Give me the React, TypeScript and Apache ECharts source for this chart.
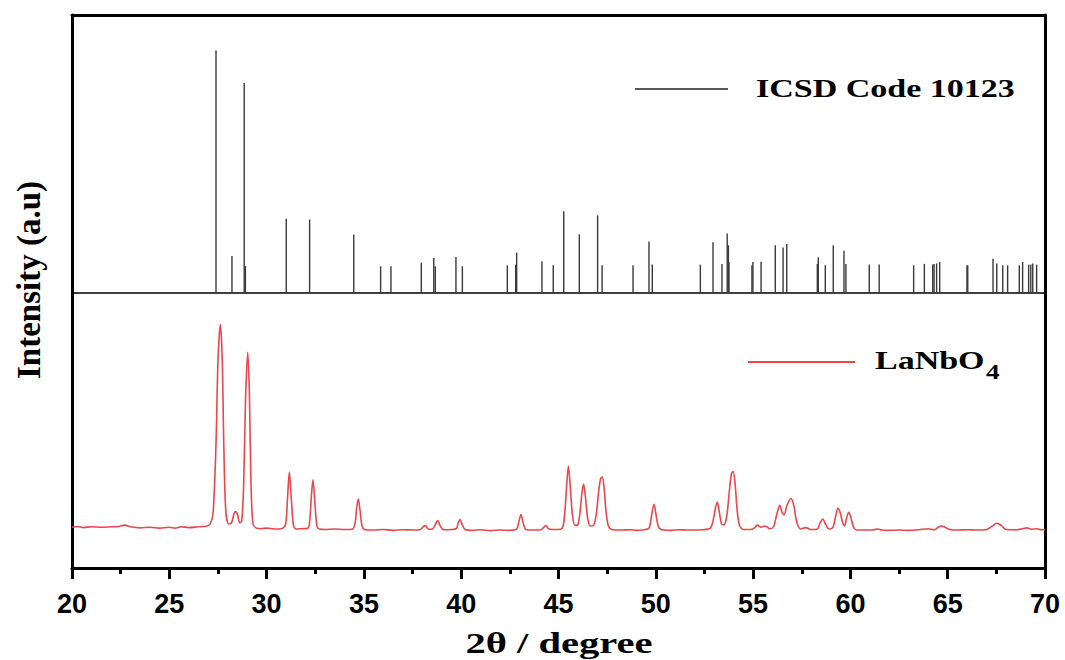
import React, { useEffect, useRef } from "react";
import * as echarts from "echarts";

// Reference stick pattern (ICSD Code 10123): [2θ, relative intensity]
const stickPositions = [
  27.40, 28.22, 28.85, 28.91, 31.01, 32.21, 34.48, 35.86, 36.39, 37.95, 38.59, 38.67, 39.73, 40.06,
  42.37, 42.80, 42.85, 44.15, 44.73, 45.27, 46.07, 47.01, 47.24, 48.83, 49.65, 49.82,
  52.29, 52.94, 53.40, 53.67, 53.73, 53.76, 54.94, 54.99, 55.41, 56.14, 56.54, 56.73,
  58.30, 58.35, 58.71, 59.12, 59.67, 59.77, 60.97, 61.48, 63.25, 63.80, 64.23, 64.30, 64.43, 64.59,
  65.99, 66.03, 67.33, 67.52, 67.83, 68.08, 68.68, 68.85, 69.16, 69.27, 69.37, 69.57,
];
const stickIntensities = [
  100, 15.3, 86.6, 11.1, 30.6, 30.3, 24.1, 11.0, 11.0, 12.5, 14.4, 11.0, 14.8, 11.0,
  11.4, 11.7, 16.6, 13.1, 11.4, 33.7, 24.2, 32.0, 11.4, 11.4, 21.2, 11.7,
  11.7, 20.9, 12.0, 24.5, 19.7, 12.8, 11.4, 12.8, 12.9, 19.7, 18.8, 20.2,
  12.0, 14.7, 11.4, 19.7, 17.4, 12.0, 11.7, 11.7, 11.4, 12.0, 11.7, 12.0, 12.2, 12.8,
  11.4, 11.4, 14.1, 12.2, 11.4, 11.4, 11.4, 12.8, 11.7, 11.7, 12.2, 11.7,
];

// Measured LaNbO4 pattern: 2θ values and intensities (a.u.)
const xrdTheta = [
  20.0, 20.3, 20.6, 21.0, 21.5, 22.0, 22.4, 22.7, 23.0, 23.5, 24.0, 24.5, 25.0, 25.3, 25.6, 26.0, 26.5, 26.9,
  27.1, 27.25, 27.4, 27.5, 27.62, 27.72, 27.8, 27.9, 28.05, 28.2, 28.33, 28.41, 28.5, 28.62,
  28.72, 28.82, 28.92, 29.03, 29.12, 29.2, 29.3, 29.45, 29.7, 30.0, 30.4, 30.8,
  30.98, 31.08, 31.17, 31.27, 31.38, 31.5, 31.8, 32.1, 32.2, 32.3, 32.38, 32.47, 32.58, 32.7,
  33.0, 33.5, 34.0, 34.4, 34.55, 34.63, 34.71, 34.8, 34.9, 35.05, 35.5, 36.0, 36.5, 37.0, 37.5, 37.9,
  38.05, 38.16, 38.3, 38.5, 38.65, 38.79, 38.92, 39.1, 39.5, 39.75, 39.85, 39.94, 40.05, 40.2,
  40.6, 41.0, 41.5, 42.0, 42.5, 42.85, 42.95, 43.07, 43.18, 43.32, 43.7, 44.1, 44.25, 44.36, 44.5, 44.9,
  45.2, 45.32, 45.42, 45.51, 45.6, 45.72, 45.85, 45.98, 46.1, 46.2, 46.29, 46.38, 46.5, 46.62,
  46.8, 46.95, 47.05, 47.15, 47.24, 47.33, 47.45, 47.58, 47.8, 48.3, 48.7, 49.0, 49.4,
  49.65, 49.78, 49.91, 50.02, 50.15, 50.4, 50.8, 51.2, 51.6, 52.0, 52.4, 52.8,
  52.95, 53.07, 53.16, 53.25, 53.38, 53.5, 53.65, 53.78, 53.88, 53.97, 54.07, 54.18, 54.3, 54.5, 54.9,
  55.1, 55.22, 55.4, 55.63, 55.85, 56.05, 56.2, 56.37, 56.5, 56.59, 56.75, 56.95, 57.1, 57.25, 57.45,
  57.72, 57.95, 58.3, 58.45, 58.58, 58.72, 58.9, 59.1, 59.25, 59.36, 59.48, 59.6, 59.69, 59.8, 59.91,
  60.02, 60.15, 60.35, 60.8, 61.2, 61.4, 61.6, 62.0, 62.5, 63.0, 63.5, 64.0, 64.3, 64.55, 64.69, 64.85,
  65.1, 65.5, 66.0, 66.5, 67.0, 67.3, 67.52, 67.75, 68.0, 68.5, 68.8, 69.06, 69.3, 69.6, 69.8, 70.0,
];
const xrdIntensity = [
  14.8, 15.1, 14.7, 15.0, 14.8, 15.0, 15.1, 15.6, 15.0, 14.6, 14.8, 14.5, 14.8, 14.5, 15.0, 14.7, 15.0, 15.2,
  16.0, 20.0, 45.0, 75.0, 88.6, 76.0, 45.0, 21.0, 16.0, 16.5, 19.8, 20.5, 19.5, 16.5,
  17.0, 30.0, 62.0, 78.4, 62.0, 30.0, 16.0, 14.6, 14.3, 14.5, 14.2, 14.4,
  16.0, 26.0, 34.9, 25.0, 15.5, 14.2, 14.3, 14.4, 16.0, 26.0, 32.1, 25.0, 15.5, 14.2,
  14.0, 14.2, 14.0, 14.1, 16.5, 22.0, 25.1, 21.0, 15.5, 13.9, 13.8, 14.0, 13.7, 13.9, 13.8, 14.0,
  15.0, 15.4, 14.2, 14.1, 15.5, 17.3, 15.3, 13.9, 14.0, 14.3, 16.5, 17.6, 15.8, 14.0,
  13.7, 13.9, 13.6, 13.8, 13.7, 14.1, 16.5, 19.4, 16.5, 14.0, 13.8, 13.9, 14.9, 15.4, 14.2, 14.0,
  14.6, 20.0, 30.0, 37.1, 30.0, 19.0, 15.5, 15.6, 20.0, 27.0, 30.5, 26.0, 18.0, 15.3,
  15.5, 20.0, 27.0, 32.0, 33.2, 30.0, 20.0, 15.0, 13.9, 13.8, 13.9, 13.7, 13.9,
  14.5, 19.0, 23.2, 19.0, 14.8, 13.8, 13.7, 13.9, 13.8, 13.8, 13.9, 14.5,
  17.5, 22.0, 24.0, 21.0, 16.0, 15.7, 19.0, 28.0, 34.0, 35.2, 31.0, 21.0, 15.5, 14.0, 14.0,
  14.8, 15.6, 14.8, 15.3, 14.3, 15.0, 19.0, 22.8, 20.0, 19.3, 23.0, 25.3, 22.5, 16.5, 14.2,
  14.7, 14.0, 14.2, 16.5, 17.8, 16.0, 14.2, 14.8, 19.0, 21.8, 20.0, 16.5, 15.3, 18.0, 20.3,
  18.5, 15.0, 13.8, 13.8, 13.9, 14.2, 13.8, 13.7, 13.8, 13.7, 13.9, 14.3, 13.9, 15.0, 15.3, 14.8,
  14.0, 13.8, 13.9, 13.8, 14.0, 15.3, 16.3, 15.5, 14.0, 13.9, 14.2, 14.6, 14.1, 14.3, 13.9, 13.9,
];

const xTicks = { min: 20, max: 70, interval: 5 };
const stickLegend = "ICSD Code 10123";
const sampleLegendMain = "LaNbO";
const sampleLegendSub = "4";
const xTitle = "2θ / degree";
const yTitle = "Intensity (a.u)";

const SERIF = "'Liberation Serif', 'Times New Roman', serif";
const SANS = "'Liberation Sans', Arial, sans-serif";
const RED = "#e8474c";

export default function App() {
  const ref = useRef<HTMLDivElement>(null);

  useEffect(() => {
    if (!ref.current) return;
    const chart = echarts.init(ref.current, undefined, { renderer: "svg" });

    const sticks = stickPositions.map((x, i) => [x, stickIntensities[i]]);
    const curve = xrdTheta.map((x, i) => [x, xrdIntensity[i]]);

    const hiddenAxisBits = {
      axisTick: { show: false },
      axisLabel: { show: false },
      splitLine: { show: false },
    };

    const option: any = {
      animation: false,
      backgroundColor: "#fff",
      grid: [
        { left: 72, right: 20, top: 15, height: 278 },
        { left: 72, right: 20, top: 293, bottom: 92 },
      ],
      xAxis: [
        {
          gridIndex: 0, type: "value", min: xTicks.min, max: xTicks.max, position: "bottom",
          axisLine: { show: true, onZero: false, lineStyle: { color: "#000", width: 1.5 } },
          ...hiddenAxisBits,
        },
        {
          gridIndex: 0, type: "value", min: xTicks.min, max: xTicks.max, position: "top",
          axisLine: { show: true, onZero: false, lineStyle: { color: "#000", width: 3 } },
          ...hiddenAxisBits,
        },
        {
          gridIndex: 1, type: "value", min: xTicks.min, max: xTicks.max, interval: xTicks.interval,
          position: "bottom",
          axisLine: { show: true, onZero: false, lineStyle: { color: "#000", width: 3 } },
          axisTick: { show: true, inside: false, length: 11, lineStyle: { color: "#000", width: 3 } },
          minorTick: { show: true, splitNumber: 2, length: 6, lineStyle: { color: "#000", width: 3 } },
          axisLabel: {
            show: true, margin: 22, color: "#000", fontFamily: SANS, fontWeight: "bold", fontSize: 27,
          },
          splitLine: { show: false },
          minorSplitLine: { show: false },
        },
      ],
      yAxis: [
        {
          gridIndex: 0, type: "value", min: 0, max: 114.6, position: "left",
          axisLine: { show: true, onZero: false, lineStyle: { color: "#000", width: 3 } },
          ...hiddenAxisBits,
        },
        {
          gridIndex: 0, type: "value", min: 0, max: 114.6, position: "right",
          axisLine: { show: true, onZero: false, lineStyle: { color: "#000", width: 3 } },
          ...hiddenAxisBits,
        },
        {
          gridIndex: 1, type: "value", min: 0, max: 100, position: "left",
          axisLine: { show: true, onZero: false, lineStyle: { color: "#000", width: 3 } },
          ...hiddenAxisBits,
        },
        {
          gridIndex: 1, type: "value", min: 0, max: 100, position: "right",
          axisLine: { show: true, onZero: false, lineStyle: { color: "#000", width: 3 } },
          ...hiddenAxisBits,
        },
      ],
      series: [
        {
          name: stickLegend,
          type: "custom",
          xAxisIndex: 0,
          yAxisIndex: 0,
          encode: { x: 0, y: 1 },
          data: sticks,
          clip: true,
          renderItem: (params: any, api: any) => {
            const x = api.value(0);
            const y = api.value(1);
            const p0 = api.coord([x, 0]);
            const p1 = api.coord([x, y]);
            return {
              type: "line",
              shape: { x1: p0[0], y1: p0[1], x2: p1[0], y2: p1[1] },
              style: { stroke: "#3a3a3a", lineWidth: 1.4 },
            };
          },
        },
        {
          name: "LaNbO4",
          type: "line",
          xAxisIndex: 2,
          yAxisIndex: 2,
          data: curve,
          showSymbol: false,
          smooth: 0.3,
          lineStyle: { color: RED, width: 1.6 },
        },
      ],
      graphic: [
        {
          type: "line",
          shape: { x1: 635, y1: 89, x2: 728, y2: 89 },
          style: { stroke: "#222", lineWidth: 1.5 },
        },
        {
          type: "text",
          x: 756, y: 88, scaleX: 1.36,
          style: {
            text: stickLegend, fill: "#000", font: `bold 25px ${SERIF}`,
            textAlign: "left", textVerticalAlign: "middle",
          },
        },
        {
          type: "line",
          shape: { x1: 748, y1: 362, x2: 855, y2: 362 },
          style: { stroke: RED, lineWidth: 2 },
        },
        {
          type: "text",
          x: 875, y: 360, scaleX: 1.36,
          style: {
            text: sampleLegendMain, fill: "#000", font: `bold 25px ${SERIF}`,
            textAlign: "left", textVerticalAlign: "middle",
          },
        },
        {
          type: "text",
          x: 986, y: 372, scaleX: 1.36,
          style: {
            text: sampleLegendSub, fill: "#000", font: `bold 20px ${SERIF}`,
            textAlign: "left", textVerticalAlign: "middle",
          },
        },
        {
          type: "text",
          x: 559, y: 644, scaleX: 1.4,
          style: {
            text: xTitle, fill: "#000", font: `bold 29px ${SERIF}`,
            textAlign: "center", textVerticalAlign: "middle",
          },
        },
        {
          type: "text",
          x: 29, y: 280, rotation: Math.PI / 2,
          style: {
            text: yTitle, fill: "#000", font: `bold 33px ${SERIF}`,
            textAlign: "center", textVerticalAlign: "middle",
          },
        },
      ],
    };

    chart.setOption(option);
    return () => chart.dispose();
  }, []);

  return (
    <div
      ref={ref}
      style={{ position: "absolute", left: 0, top: 0, width: 1065, height: 660, background: "#fff" }}
    />
  );
}
